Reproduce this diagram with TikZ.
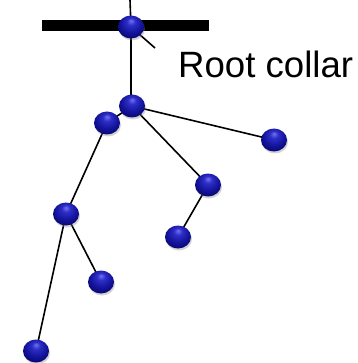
\documentclass[tikz,border=0pt]{standalone}
\usepackage{fontspec}
\setmainfont{Liberation Sans}
\usetikzlibrary{shapes.geometric,shadows}
\pgfdeclareradialshading{blueball}{\pgfpoint{0bp}{14bp}}{%
  rgb(0bp)=(0.45,0.45,0.95);
  rgb(8bp)=(0.18,0.18,0.78);
  rgb(20bp)=(0.08,0.08,0.62);
  rgb(30bp)=(0.03,0.03,0.45);
  rgb(50bp)=(0.0,0.0,0.25)}
\begin{document}
\begin{tikzpicture}[x=1pt,y=-1pt,
  ball/.style={ellipse,minimum width=26pt,minimum height=23pt,inner sep=0pt,
    shading=blueball,
    drop shadow={shadow xshift=1pt,shadow yshift=-2pt,opacity=0.35}},
  link/.style={line width=1.6pt,black}]
\useasboundingbox (0,0) rectangle (357,363);
\coordinate (top) at (130,0);
\coordinate (bl) at (42,26);
\coordinate (br) at (209,26);
\coordinate (ptr) at (155,48);
\draw[line width=11pt] (bl) -- (br);
\draw[link] (top) -- (131,27) -- (131,106);
\draw[link] (132,106) -- (107,123) -- (66,214) -- (36,351);
\draw[link] (132,106) -- (274,140);
\draw[link] (132,106) -- (208,185) -- (178,237);
\draw[link] (66,214) -- (101,282);
\draw[link] (131,27) -- (ptr);
\node[ball] (r) at (131,27) {};
\node[ball] (n1) at (132,106) {};
\node[ball] (n2) at (107,123) {};
\node[ball] (n3) at (274,140) {};
\node[ball] (n4) at (208,185) {};
\node[ball] (n5) at (178,237) {};
\node[ball] (n6) at (66,214) {};
\node[ball] (n7) at (101,282) {};
\node[ball] (n8) at (36,351) {};
\node[anchor=base west,inner sep=0pt,font=\fontsize{36.6}{40}\selectfont] (lbl) at (178,78) {Root collar};
\end{tikzpicture}
\end{document}
